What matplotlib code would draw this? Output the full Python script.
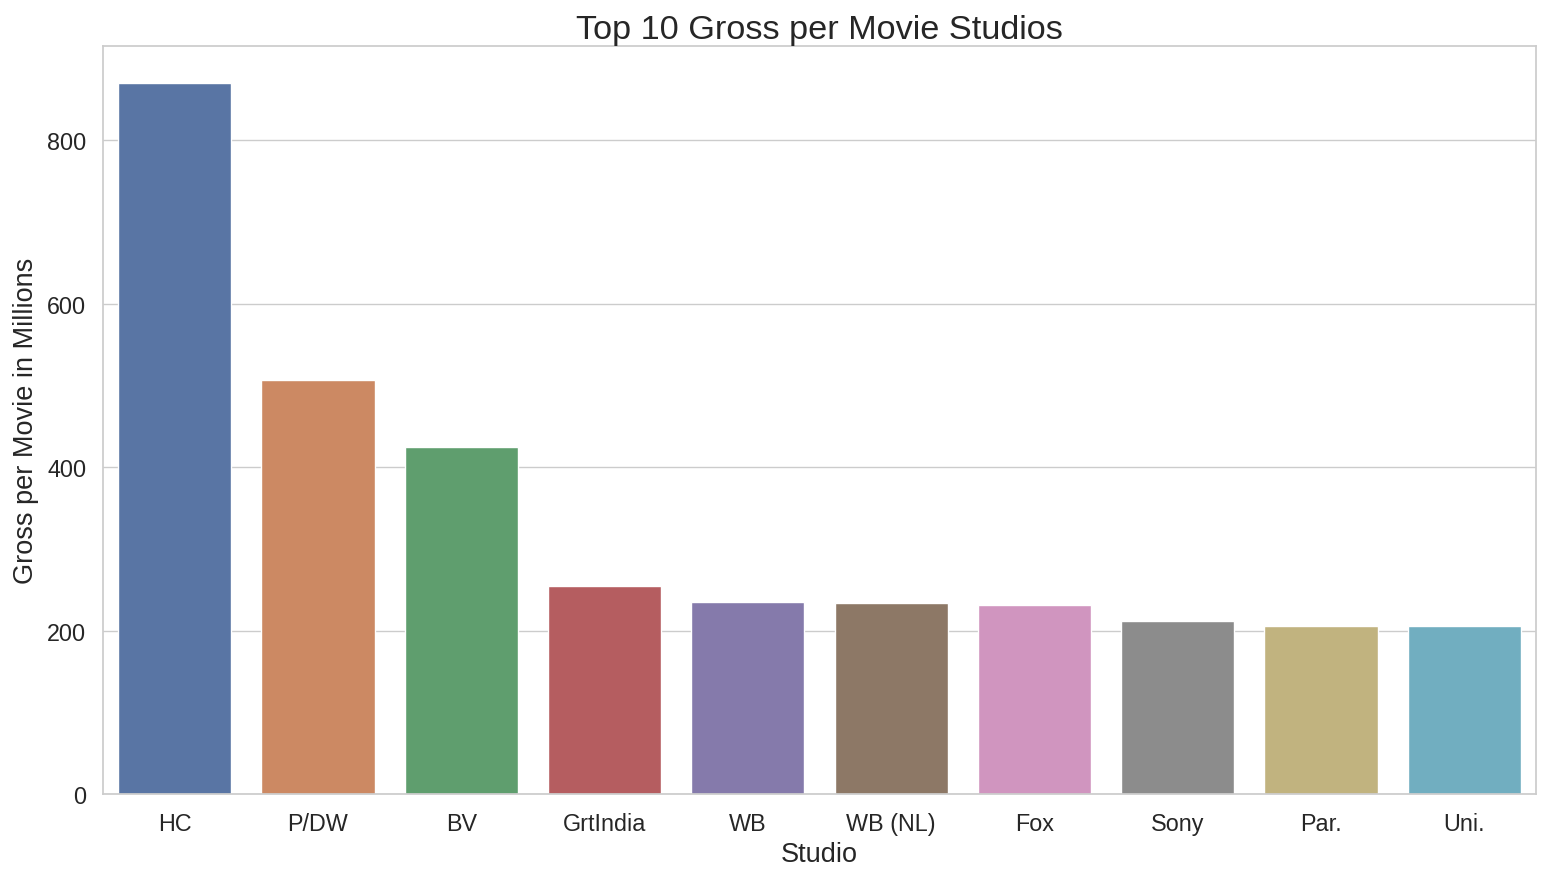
import numpy as np
import pandas as pd
import matplotlib
matplotlib.use("Agg")
import matplotlib.pyplot as plt
import seaborn as sns

studios = ["HC", "P/DW", "BV", "GrtIndia", "WB", "WB (NL)", "Fox", "Sony", "Par.", "Uni."]
gross_per_movie = [869.5, 507.0, 425.0, 254.3, 235.1, 233.5, 231.4, 212.2, 205.7, 205.7]

df = pd.DataFrame({"studio": studios, "gross": gross_per_movie})

sns.set_theme(style="whitegrid")
plt.rcParams["font.family"] = ["Liberation Sans", "DejaVu Sans"]

fig, ax = plt.subplots(figsize=(15.46, 8.78), dpi=100)
fig.subplots_adjust(left=103 / 1546, right=1536 / 1546, top=1 - 47 / 878, bottom=1 - 795 / 878)

# seaborn barplot look: deep palette at 0.75 saturation
colors = [sns.desaturate(c, 0.75) for c in sns.color_palette("deep", len(studios))]
ax.bar(df["studio"], df["gross"], color=colors, width=0.79)
ax.set_xlim(-0.5, len(studios) - 0.5)
ax.set_ylim(0, 915)
ax.set_axisbelow(True)
ax.xaxis.grid(False)

ax.set_title("Top 10 Gross per Movie Studios", fontsize=24.7)
ax.set_xlabel("Studio", fontsize=19.5, labelpad=4)
ax.set_ylabel("Gross per Movie in Millions", fontsize=19.5, labelpad=6)
ax.tick_params(axis="x", labelsize=16.8, pad=7)
ax.tick_params(axis="y", labelsize=16.8, pad=6)

fig.savefig("out.png", dpi=100)
